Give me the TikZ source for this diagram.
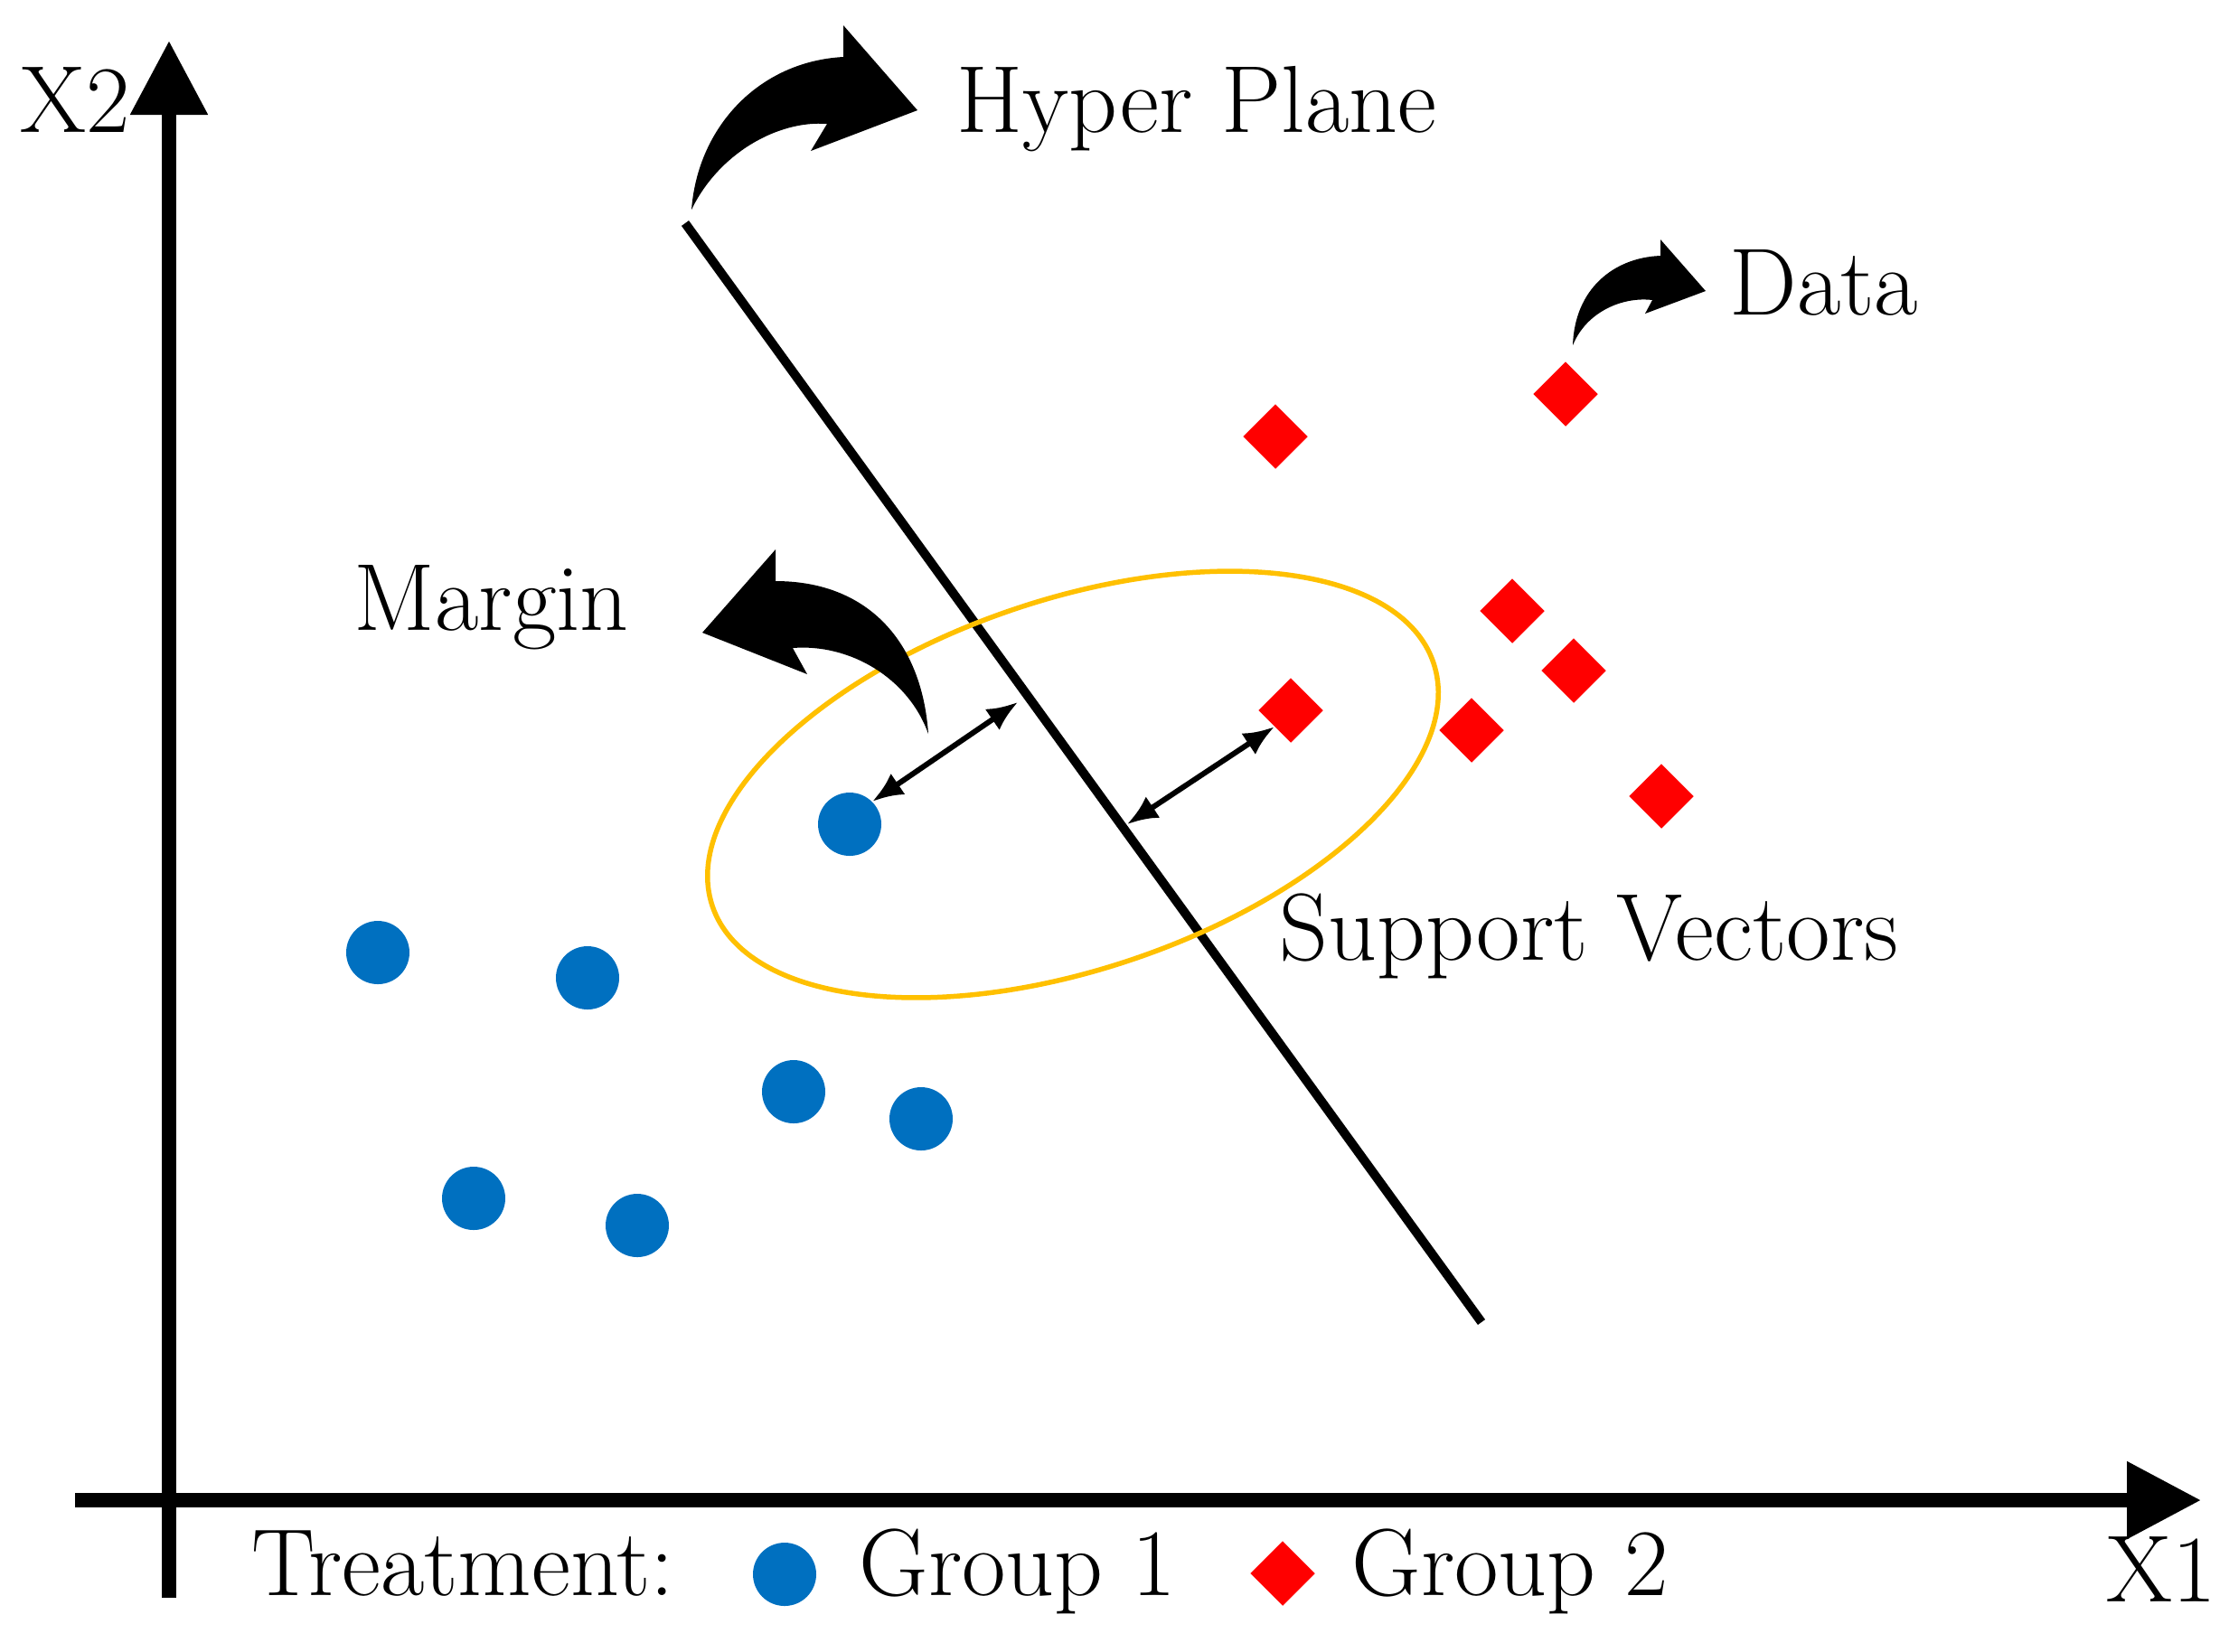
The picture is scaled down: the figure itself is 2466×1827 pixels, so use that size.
\documentclass[tikz,border=0pt]{standalone}
\usepackage{tikz}
\usetikzlibrary{shapes.geometric,arrows.meta}
\definecolor{grpblue}{HTML}{0070C0}
\definecolor{grpred}{HTML}{FF0000}
\definecolor{ringgold}{HTML}{FFC000}
\tikzset{
  grp1/.style={circle,fill=grpblue,inner sep=0,minimum size=7mm},
  grp2/.style={diamond,fill=grpred,inner sep=0,minimum width=7.2mm,minimum height=7.2mm,aspect=1},
  lbl/.style={anchor=base west,inner sep=0,font=\fontsize{30}{36}\selectfont},
  axis/.style={line width=1.55mm,-{Triangle[length=8.2mm,width=8.2mm]}},
  gap/.style={line width=0.6mm,{Latex[length=3.4mm,width=2.8mm]}-{Latex[length=3.4mm,width=2.8mm]}}
}
\begin{document}
\begin{tikzpicture}[x=0.1mm,y=-0.1mm]
\useasboundingbox (0,0) rectangle (2466,1827);
\draw[axis] (187,1768)--(187,45);
\draw[axis] (83,1660)--(2435,1660);
\node[lbl] (lblx2) at (22,146) {X2};
\node[lbl] (lblx1) at (2330,1772) {X1};
\coordinate (hp1) at (758,247);
\coordinate (hp2) at (1639,1463);
\draw[line width=1mm] (hp1)--(hp2);
\draw[ringgold,line width=0.55mm,rotate around={18.65:(1187,868)}] (1187,868) ellipse [x radius=42.1mm,y radius=20.45mm];
\node[grp1] (b1) at (940,912) {};
\node[grp1] (b2) at (418,1054) {};
\node[grp1] (b3) at (650,1082) {};
\node[grp1] (b4) at (878,1208) {};
\node[grp1] (b5) at (1019,1238) {};
\node[grp1] (b6) at (524,1326) {};
\node[grp1] (b7) at (705,1356) {};
\node[grp2] (r1) at (1411,483) {};
\node[grp2] (r2) at (1732,436) {};
\node[grp2] (r3) at (1673,676) {};
\node[grp2] (r4) at (1741,742) {};
\node[grp2] (r5) at (1428,786) {};
\node[grp2] (r6) at (1628,808) {};
\node[grp2] (r7) at (1838,881) {};
\coordinate (m1) at (1126,777);
\coordinate (m2) at (1247,912);
\draw[gap] (b1.north east)--(m1);
\draw[gap] (m2)--(r5.south west);
\fill (765,232) .. controls (772,140) and (840,68) .. (933,63) -- (933,28) -- (1015,122) -- (897,167) -- (915,137) .. controls (860,133) and (795,170) .. (765,232) -- cycle;
\fill (1027,812) .. controls (1020,710) and (960,643) .. (858,643) -- (858,608) -- (777,700) -- (893,746) -- (877,717) .. controls (940,712) and (1005,750) .. (1027,812) -- cycle;
\fill (1740,382) .. controls (1742,320) and (1785,285) .. (1837,283) -- (1837,265) -- (1887,322) -- (1820,347) -- (1828,332) .. controls (1795,328) and (1755,345) .. (1740,382) -- cycle;
\node[lbl] (lblhp) at (1058,146) {Hyper Plane};
\node[lbl] (lbldata) at (1913,348) {Data};
\node[lbl] (lblmargin) at (391,697) {Margin};
\node[lbl] (lblsv) at (1415,1062) {Support Vectors};
\node[lbl] (lbltreat) at (278,1765) {Treatment:};
\node[grp1] (lg1) at (868,1742) {};
\node[lbl] (lblg1) at (950,1765) {Group 1};
\node[grp2] (lg2) at (1419,1741) {};
\node[lbl] (lblg2) at (1495,1765) {Group 2};
\end{tikzpicture}
\end{document}
